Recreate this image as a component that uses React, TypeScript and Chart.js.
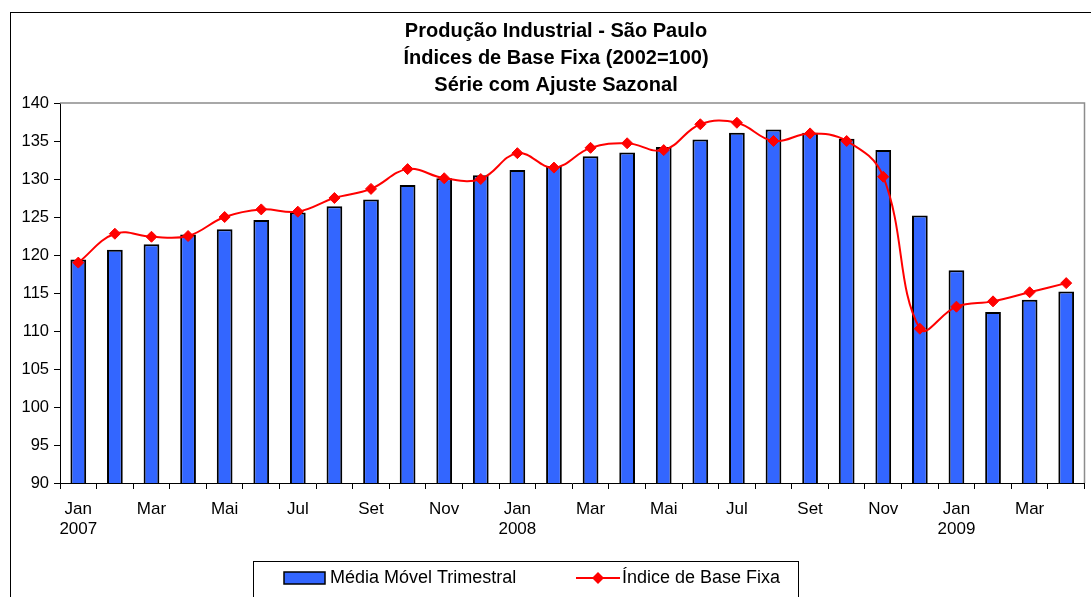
import React, { useEffect, useRef } from "react";
import { Chart, registerables } from "chart.js";

Chart.register(...registerables);

const categoryMonths = [
  "Jan", "Fev", "Mar", "Abr", "Mai", "Jun", "Jul", "Ago", "Set", "Out", "Nov", "Dez",
  "Jan", "Fev", "Mar", "Abr", "Mai", "Jun", "Jul", "Ago", "Set", "Out", "Nov", "Dez",
  "Jan", "Fev", "Mar", "Abr",
];
const categoryYears = [
  "2007", "2007", "2007", "2007", "2007", "2007", "2007", "2007", "2007", "2007", "2007", "2007",
  "2008", "2008", "2008", "2008", "2008", "2008", "2008", "2008", "2008", "2008", "2008", "2008",
  "2009", "2009", "2009", "2009",
];

const mediaMovelTrimestral = [
  119.4, 120.7, 121.4, 122.7, 123.4, 124.6, 125.6, 126.4, 127.3, 129.2, 130.1, 130.5,
  131.2, 131.7, 133.0, 133.5, 134.2, 135.2, 136.1, 136.5, 136.1, 135.3, 133.8, 125.2,
  118.0, 112.5, 114.1, 115.2,
];
const indiceBaseFixa = [
  119.0, 122.8, 122.4, 122.5, 125.0, 126.0, 125.7, 127.5, 128.7, 131.3, 130.1, 130.0,
  133.4, 131.5, 134.1, 134.7, 133.8, 137.2, 137.4, 135.0, 136.0, 135.0, 130.3, 110.3,
  113.2, 113.9, 115.1, 116.3,
];

const titleLines = [
  "Produção Industrial - São Paulo",
  "Índices de Base Fixa (2002=100)",
  "Série com Ajuste Sazonal",
];
const seriesLabels = ["Média Móvel Trimestral", "Índice de Base Fixa"];
const yMin = 90;
const yMax = 140;
const yStep = 5;

const FONT = '"Liberation Sans", Arial, sans-serif';
const BAR_COLOR = "#3366FF";
const LINE_COLOR = "#FF0000";

const framePlugin = {
  id: "excelFrame",
  afterLayout(chart: any) {
    // centre the title over the chart object as Excel does
    if (chart.titleBlock) {
      chart.titleBlock.left = 21;
      chart.titleBlock.right = chart.width;
    }
  },
  beforeDraw(chart: any) {
    const ctx = chart.ctx;
    ctx.save();
    ctx.fillStyle = "#ffffff";
    ctx.fillRect(0, 0, chart.width, chart.height);
    ctx.strokeStyle = "#000000";
    ctx.lineWidth = 1;
    ctx.strokeRect(10.5, 12.5, chart.width + 50, chart.height + 50);
    ctx.restore();
  },
  beforeDatasetsDraw(chart: any) {
    const { ctx, chartArea } = chart;
    ctx.save();
    ctx.strokeStyle = "#8c8c8c";
    ctx.lineWidth = 1.5;
    ctx.beginPath();
    ctx.moveTo(chartArea.left, chartArea.top);
    ctx.lineTo(chartArea.right, chartArea.top);
    ctx.lineTo(chartArea.right, chartArea.bottom);
    ctx.stroke();
    ctx.restore();
  },
};

const legendPlugin = {
  id: "excelLegend",
  afterDraw(chart: any) {
    const ctx = chart.ctx;
    const barDs = chart.data.datasets[1];
    const lineDs = chart.data.datasets[0];
    const bx = 253, by = 561, bw = 545, bh = 50;
    const cy = 578;
    ctx.save();
    ctx.strokeStyle = "#000";
    ctx.lineWidth = 1;
    ctx.strokeRect(bx + 0.5, by + 0.5, bw, bh);
    ctx.fillStyle = barDs.backgroundColor;
    ctx.fillRect(284, cy - 6, 41, 12);
    ctx.lineWidth = 1.5;
    ctx.strokeStyle = "#000";
    ctx.strokeRect(284, cy - 6, 41, 12);
    ctx.font = `18px ${FONT}`;
    ctx.fillStyle = "#000";
    ctx.textBaseline = "middle";
    ctx.textAlign = "left";
    ctx.fillText(barDs.label, 330, cy);
    ctx.strokeStyle = LINE_COLOR;
    ctx.lineWidth = 2;
    ctx.beginPath();
    ctx.moveTo(576, cy);
    ctx.lineTo(620, cy);
    ctx.stroke();
    ctx.fillStyle = LINE_COLOR;
    ctx.beginPath();
    ctx.moveTo(598 - 6, cy);
    ctx.lineTo(598, cy - 6);
    ctx.lineTo(598 + 6, cy);
    ctx.lineTo(598, cy + 6);
    ctx.closePath();
    ctx.fill();
    ctx.fillStyle = "#000";
    ctx.fillText(lineDs.label, 622, cy);
    ctx.restore();
  },
};

export default function App() {
  const canvasRef = useRef<HTMLCanvasElement | null>(null);

  useEffect(() => {
    if (!canvasRef.current) return;
    const labels = categoryMonths.map((m, i) => `${m} ${categoryYears[i]}`);
    const chart = new Chart(canvasRef.current, {
      type: "bar",
      data: {
        labels,
        datasets: [
          {
            type: "line",
            label: seriesLabels[1],
            data: indiceBaseFixa,
            borderColor: LINE_COLOR,
            backgroundColor: LINE_COLOR,
            borderWidth: 2,
            tension: 0.4,
            pointStyle: "rectRot",
            pointRadius: 5.5,
            pointBorderWidth: 1,
            pointBackgroundColor: LINE_COLOR,
            pointBorderColor: LINE_COLOR,
            order: 1,
          } as any,
          {
            type: "bar",
            label: seriesLabels[0],
            data: mediaMovelTrimestral,
            backgroundColor: BAR_COLOR,
            borderColor: "#000000",
            borderWidth: 2,
            barPercentage: 0.43,
            categoryPercentage: 1,
            order: 2,
          } as any,
        ],
      },
      options: {
        responsive: false,
        animation: false,
        events: [],
        layout: { padding: { left: 0, right: 4, top: 0, bottom: 0 } },
        plugins: {
          legend: { display: false },
          tooltip: { enabled: false },
          title: {
            display: true,
            text: titleLines,
            color: "#000",
            font: { family: FONT, size: 20, weight: "bold", lineHeight: 1.35 },
            padding: { top: 17.5, bottom: 4.5 },
          },
        },
        scales: {
          x: {
            offset: true,
            grid: {
              display: true,
              offset: true,
              drawOnChartArea: false,
              drawTicks: true,
              tickLength: 6,
              color: "#000",
            },
            border: { display: true, color: "#000", width: 1 },
            ticks: {
              autoSkip: false,
              maxRotation: 0,
              minRotation: 0,
              padding: 10,
              color: "#000",
              font: { family: FONT, size: 17, lineHeight: 1.2 },
              callback: (_v: any, index: number) => {
                if (index % 2 !== 0) return "";
                const m = categoryMonths[index];
                return m === "Jan" ? [m, categoryYears[index]] : m;
              },
            },
            afterFit: (scale: any) => {
              scale.height = 114;
            },
          },
          y: {
            min: yMin,
            max: yMax,
            grid: {
              display: true,
              drawOnChartArea: false,
              drawTicks: true,
              tickLength: 6,
              color: "#000",
            },
            border: { display: true, color: "#000", width: 1 },
            ticks: {
              stepSize: yStep,
              padding: 5,
              color: "#000",
              font: { family: FONT, size: 16.5 },
            },
            afterFit: (scale: any) => {
              scale.width = 60;
            },
          },
        },
      },
      plugins: [framePlugin, legendPlugin],
    });
    return () => chart.destroy();
  }, []);

  return (
    <div style={{ position: "fixed", left: 0, top: 0, width: 1091, height: 597 }}>
      <canvas ref={canvasRef} width={1091} height={597} style={{ display: "block" }} />
    </div>
  );
}
